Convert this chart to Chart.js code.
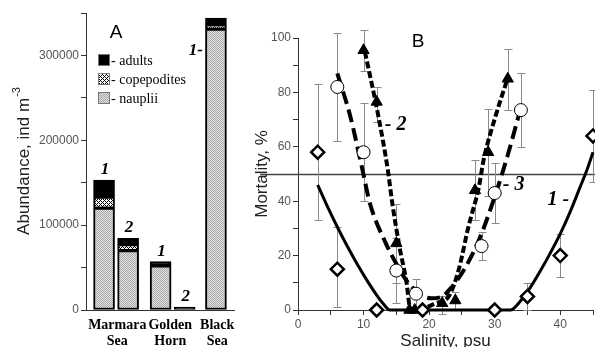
<!DOCTYPE html>
<html>
<head>
<meta charset="utf-8">
<script src="https://cdn.jsdelivr.net/npm/chart.js@4"></script>
<style>
html, body { margin: 0; padding: 0; background: #fff; }
#wrap { position: relative; width: 595px; height: 347px; overflow: hidden; }
#boxA { position: absolute; left: 0; top: 0; width: 255px; height: 347px; }
#boxB { position: absolute; left: 250px; top: 0; width: 345px; height: 347px; }
</style>
</head>
<body>
<div id="wrap">
    <div id="boxA"><canvas id="chartA"></canvas></div>
    <div id="boxB"><canvas id="chartB"></canvas></div>
</div>
<script>
// ---- panel A : abundance ----
const barPos = [0.75, 1.75, 3.1, 4.1, 5.4];
const barNums = ['1', '2', '1', '2', '1-'];
const nauplii = [120000, 70000, 52000, 0, 331000];
const copepodites = [13000, 7000, 0, 0, 5000];
const adults = [20000, 7500, 5000, 3500, 8000];
const seaPos = [1.3, 3.5, 5.45];
const seaNames = [['Marmara', 'Sea'], ['Golden', 'Horn'], ['Black', 'Sea']];
const stageNames = ['adults', 'copepodites', 'nauplii'];

// ---- panel B : mortality vs salinity ----
const diamondX = [3, 6, 12, 19, 30, 35, 40, 45];
const diamondY = [58, 15, 0, 0, 0, 5, 20, 64];
const diamondLo = [33, 1, null, null, null, 0, 12, 47];
const diamondHi = [83, 30.5, null, null, null, 10, 28, 81];

const circleX = [6, 10, 15, 18, 28, 30, 34];
const circleY = [82, 58, 14.5, 6, 23.5, 43, 73.5];
const circleLo = [62, 40, 2.5, 0, 18.5, 32, 60];
const circleHi = [102, 76, 26.5, 11.5, 28.5, 54, 87];

const triX = [10, 12, 15, 17, 17.8, 22, 24, 27, 29, 32];
const triY = [95.5, 76.5, 24.5, 0, 0, 2.5, 3.5, 44, 58, 85];
const triLo = [88, 69, 10, null, null, -1.5, 0, 33, 42, 73.5];
const triHi = [103, 82, 39, null, null, 5, 6.5, 55, 74, 96];

const curve1X = [3, 4.5, 6, 7.5, 9, 10.5, 12, 13, 14, 32.4, 34, 35.5, 37, 38.5, 40, 41.5, 43, 44, 45];
const curve1Y = [46, 38, 30.5, 23.5, 17, 11, 5.5, 2.3, 0, 0, 3.5, 8.5, 14.5, 21, 28, 36, 45, 51, 58];
const curve2X = [10.2, 12.2, 13.7, 14.4, 15.5, 16.5, 17.2, 19, 21, 23, 24.5, 26, 27.6, 28.3, 30.1, 31.9];
const curve2Y = [95, 72, 51.5, 39, 23, 11, 0, 0.5, 2.5, 5, 14.7, 30.6, 45.3, 55, 71, 84.6];
const curve3X = [6, 8, 9.7, 11, 13.4, 15, 16.5, 18.5, 20.3, 22, 23.3, 25.3, 27.6, 30.1, 32, 33.9];
const curve3Y = [87, 71, 53, 39, 24.5, 17, 11, 6, 4.3, 5, 8, 14.7, 25.7, 42.3, 57, 73.6];
const threshold = 50;

const tickFont = { family: 'Liberation Sans', size: 12 };
const tickColor = '#555';
const serif = 'Liberation Serif';

function makePattern(kind) {
    const c = document.createElement('canvas');
    const g = c.getContext('2d');
    if (kind === 'stipple') {
        c.width = 2; c.height = 2;
        g.fillStyle = '#e2e2e2'; g.fillRect(0, 0, 2, 2);
        g.fillStyle = '#a8a8a8'; g.fillRect(0, 0, 1, 1); g.fillRect(1, 1, 1, 1);
    } else {
        c.width = 4; c.height = 4;
        g.fillStyle = '#fff'; g.fillRect(0, 0, 4, 4);
        g.fillStyle = '#000';
        g.fillRect(0, 0, 1, 1); g.fillRect(2, 2, 1, 1);
        g.fillRect(1, 1, 1, 1); g.fillRect(3, 3, 1, 1);
        g.fillRect(3, 1, 1, 1); g.fillRect(1, 3, 1, 1);
    }
    return g.createPattern(c, 'repeat');
}
const stipple = makePattern('stipple');
const hatch = makePattern('hatch');

const pts = (xs, ys) => xs.map((x, i) => ({ x: x, y: ys[i] }));

// annotations of panel A
const panelAText = {
    id: 'panelAText',
    afterDraw(chart) {
        const ctx = chart.ctx;
        const xs = chart.scales.x, ys = chart.scales.y;
        ctx.save();
        // panel letter
        ctx.fillStyle = '#000';
        ctx.font = '19px Liberation Sans';
        ctx.textAlign = 'center';
        ctx.textBaseline = 'middle';
        ctx.fillText('A', xs.getPixelForValue(1.25), 33);

        // legend
        const fills = ['#000', hatch, stipple];
        ctx.textAlign = 'left';
        ctx.font = '14px ' + serif;
        stageNames.forEach((name, i) => {
            const y = 60 + i * 19;
            ctx.fillStyle = fills[i];
            ctx.fillRect(98, y - 6, 12, 12);
            ctx.strokeStyle = '#777';
            ctx.lineWidth = 1;
            ctx.strokeRect(98.5, y - 5.5, 11, 11);
            ctx.fillStyle = '#000';
            ctx.fillText('- ' + name, 111, y + 1);
        });

        // bar numbers
        ctx.font = 'italic bold 17px ' + serif;
        ctx.textAlign = 'center';
        ctx.textBaseline = 'alphabetic';
        barNums.forEach((n, i) => {
            const bx = xs.getPixelForValue(barPos[i]);
            if (i === 4) {
                ctx.fillText(n, bx - 20, 55);
            } else {
                const by = ys.getPixelForValue(nauplii[i] + copepodites[i] + adults[i]);
                ctx.fillText(n, bx + 1, by - 6);
            }
        });

        // y title with superscript
        ctx.translate(24, (chart.chartArea.top + chart.chartArea.bottom) / 2);
        ctx.rotate(-Math.PI / 2);
        ctx.textBaseline = 'middle';
        ctx.textAlign = 'left';
        ctx.fillStyle = '#222';
        const main = 'Abundance, ind m';
        ctx.font = '17px Liberation Sans';
        const w1 = ctx.measureText(main).width;
        ctx.font = '11px Liberation Sans';
        const w2 = ctx.measureText('-3').width;
        const x0 = -(w1 + w2) / 2;
        ctx.font = '17px Liberation Sans';
        ctx.fillText(main, x0, 0);
        ctx.font = '11px Liberation Sans';
        ctx.fillText('-3', x0 + w1 + 1, -7);
        ctx.restore();
    }
};

new Chart(document.getElementById('chartA'), {
    type: 'bar',
    data: {
        datasets: [
            { label: 'nauplii', data: pts(barPos, nauplii), backgroundColor: stipple },
            { label: 'copepodites', data: pts(barPos, copepodites), backgroundColor: hatch },
            { label: 'adults', data: pts(barPos, adults), backgroundColor: '#000' }
        ]
    },
    options: {
        responsive: true,
        maintainAspectRatio: false,
        animation: false,
        layout: { autoPadding: false, padding: { top: 13, right: 21, left: 0, bottom: 0 } },
        datasets: {
            bar: { barThickness: 21, borderColor: '#000', borderWidth: 2, borderSkipped: false }
        },
        plugins: { legend: { display: false }, tooltip: { enabled: false } },
        scales: {
            x: {
                type: 'linear',
                stacked: true,
                offset: false,
                min: 0,
                max: 6.15,
                afterBuildTicks: s => { s.ticks = seaPos.map(v => ({ value: v })); },
                afterFit: s => { s.height = 37; },
                grid: { display: false, drawTicks: false },
                border: { display: true, color: '#333', width: 1 },
                ticks: {
                    autoSkip: false,
                    maxRotation: 0,
                    padding: 8,
                    color: '#000',
                    font: { family: serif, size: 14, weight: 'bold', lineHeight: 1.1 },
                    callback: (v, i) => seaNames[i]
                }
            },
            y: {
                stacked: true,
                min: 0,
                max: 350000,
                afterFit: s => { s.width = 86; },
                grid: { drawOnChartArea: false, tickLength: 5, color: '#333' },
                border: { display: true, color: '#333', width: 1 },
                ticks: {
                    stepSize: 50000,
                    autoSkip: false,
                    padding: 2,
                    color: tickColor,
                    font: tickFont,
                    callback: v => (v % 100000 === 0 ? String(v) : '')
                }
            }
        }
    },
    plugins: [panelAText]
});

// error bars and the 50 % line of panel B
const panelBUnder = {
    id: 'panelBUnder',
    beforeDatasetsDraw(chart) {
        const ctx = chart.ctx;
        const xs = chart.scales.x, ys = chart.scales.y;
        ctx.save();
        ctx.strokeStyle = '#444';
        ctx.lineWidth = 1.5;
        const yl = Math.round(ys.getPixelForValue(threshold)) + 0.5;
        ctx.beginPath();
        ctx.moveTo(10, yl);
        ctx.lineTo(chart.width, yl);
        ctx.stroke();

        ctx.strokeStyle = '#8a8a8a';
        ctx.lineWidth = 1;
        const sets = [[diamondX, diamondLo, diamondHi], [circleX, circleLo, circleHi], [triX, triLo, triHi]];
        sets.forEach(([xa, lo, hi]) => {
            xa.forEach((x, i) => {
                if (lo[i] === null) return;
                const px = Math.round(xs.getPixelForValue(x)) + 0.5;
                const p1 = Math.round(ys.getPixelForValue(lo[i])) + 0.5;
                const p2 = Math.round(ys.getPixelForValue(hi[i])) + 0.5;
                ctx.beginPath();
                ctx.moveTo(px, p1); ctx.lineTo(px, p2);
                ctx.moveTo(px - 4, p1); ctx.lineTo(px + 4, p1);
                ctx.moveTo(px - 4, p2); ctx.lineTo(px + 4, p2);
                ctx.stroke();
            });
        });
        ctx.restore();
    },
    afterDraw(chart) {
        const ctx = chart.ctx;
        const xs = chart.scales.x, ys = chart.scales.y;
        const area = chart.chartArea;
        ctx.save();
        ctx.fillStyle = '#000';
        ctx.textAlign = 'center';
        ctx.textBaseline = 'middle';
        ctx.font = '19px Liberation Sans';
        ctx.fillText('B', xs.getPixelForValue(18.3), ys.getPixelForValue(98.5));

        ctx.font = 'italic bold 20px ' + serif;
        ctx.fillText('- 2', xs.getPixelForValue(14.9), ys.getPixelForValue(68));
        ctx.fillText('- 3', xs.getPixelForValue(32.9), ys.getPixelForValue(46));
        ctx.fillText('1 -', xs.getPixelForValue(39.7), ys.getPixelForValue(40.5));

        ctx.fillStyle = '#222';
        ctx.font = '17px Liberation Sans';
        ctx.textBaseline = 'alphabetic';
        ctx.fillText('Salinity, psu', (area.left + area.right) / 2, 346);

        ctx.translate(12, (area.top + area.bottom) / 2);
        ctx.rotate(-Math.PI / 2);
        ctx.textBaseline = 'middle';
        ctx.fillText('Mortality, %', 0, 0);
        ctx.restore();
    }
};

new Chart(document.getElementById('chartB'), {
    type: 'scatter',
    data: {
        datasets: [
            {
                label: 'diamonds', data: pts(diamondX, diamondY),
                pointStyle: 'rectRot', pointRadius: 6.5, backgroundColor: '#fff', borderColor: '#000', borderWidth: 2.5
            },
            {
                label: 'circles', data: pts(circleX, circleY),
                pointStyle: 'circle', pointRadius: 6.5, backgroundColor: '#fff', borderColor: '#000', borderWidth: 1
            },
            {
                label: 'triangles', data: pts(triX, triY),
                pointStyle: 'triangle', pointRadius: 6.5, backgroundColor: '#000', borderColor: '#000', borderWidth: 1
            },
            {
                label: '1', data: pts(curve1X, curve1Y), showLine: true, pointRadius: 0,
                borderColor: '#000', borderWidth: 3, cubicInterpolationMode: 'monotone'
            },
            {
                label: '2', data: pts(curve2X, curve2Y), showLine: true, pointRadius: 0,
                borderColor: '#000', borderWidth: 4, borderDash: [7, 3], cubicInterpolationMode: 'monotone'
            },
            {
                label: '3', data: pts(curve3X, curve3Y), showLine: true, pointRadius: 0,
                borderColor: '#000', borderWidth: 4, borderDash: [13, 6], cubicInterpolationMode: 'monotone'
            }
        ]
    },
    options: {
        responsive: true,
        maintainAspectRatio: false,
        animation: false,
        clip: false,
        layout: { autoPadding: false, padding: { top: 38, right: 0, left: 0, bottom: 0 } },
        plugins: { legend: { display: false }, tooltip: { enabled: false } },
        scales: {
            x: {
                type: 'linear',
                min: 0,
                max: 45,
                afterFit: s => { s.height = 37; },
                grid: { drawOnChartArea: false, tickLength: 5, color: '#333' },
                border: { display: true, color: '#333', width: 1 },
                ticks: {
                    stepSize: 5,
                    autoSkip: false,
                    maxRotation: 0,
                    padding: 2,
                    color: tickColor,
                    font: tickFont,
                    callback: v => (v % 10 === 0 ? String(v) : '')
                }
            },
            y: {
                min: 0,
                max: 100,
                afterFit: s => { s.width = 48; },
                grid: { drawOnChartArea: false, tickLength: 5, color: '#333' },
                border: { display: true, color: '#333', width: 1 },
                ticks: {
                    stepSize: 10,
                    autoSkip: false,
                    padding: 2,
                    color: tickColor,
                    font: tickFont,
                    callback: v => (v % 20 === 0 ? String(v) : '')
                }
            }
        }
    },
    plugins: [panelBUnder]
});
</script>
</body>
</html>
